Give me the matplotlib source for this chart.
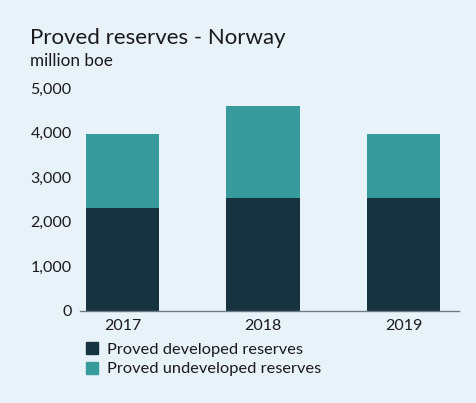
import matplotlib
matplotlib.use("Agg")
import matplotlib.pyplot as plt
from matplotlib.patches import Patch

# data (million boe)
years = ["2017", "2018", "2019"]
developed = [2310, 2530, 2530]
undeveloped = [1660, 2070, 1430]
yticks = [0, 1000, 2000, 3000, 4000, 5000]
ytick_labels = ["0", "1,000", "2,000", "3,000", "4,000", "5,000"]

bg = "#E8F2F9"
dark = "#173340"
teal = "#389B9B"
txt = "#1A1A1A"

plt.rcParams['font.family'] = ['Lato', 'DejaVu Sans']

fig = plt.figure(figsize=(4.77, 4.03), dpi=100, facecolor=bg)
ax = fig.add_axes([80/477, 1 - 311/403, 379/477, 223/403])
ax.set_facecolor(bg)

x = list(range(len(years)))
ax.bar(x, developed, width=0.52, color=dark, zorder=2)
ax.bar(x, undeveloped, bottom=developed, width=0.52, color=teal, zorder=2)

ax.set_xlim(-0.302, 2.395)
ax.set_ylim(0, 5000)
ax.set_yticks(yticks)
ax.set_yticklabels(ytick_labels)
ax.set_xticks(x)
ax.set_xticklabels(years)
ax.tick_params(axis='both', length=0, labelsize=11.5, colors=txt)
ax.tick_params(axis='y', pad=6)
ax.tick_params(axis='x', pad=6)

for s in ['top', 'right', 'left']:
    ax.spines[s].set_visible(False)
ax.spines['bottom'].set_color('#6B7B85')
ax.spines['bottom'].set_linewidth(1)

fig.text(30/477, 1 - 38/403, "Proved reserves - Norway", fontsize=16, color=txt, va='center')
fig.text(30/477, 1 - 61/403, "million boe", fontsize=12.3, color=txt, va='center')

handles = [Patch(color=dark), Patch(color=teal)]
fig.legend(handles, ["Proved developed reserves", "Proved undeveloped reserves"],
           loc='upper left', bbox_to_anchor=(86/477, 1 - 342/403), frameon=False,
           borderpad=0, borderaxespad=0,
           fontsize=11.8, handlelength=0.75, handleheight=0.75, handletextpad=0.55,
           labelspacing=0.3, labelcolor=txt)

fig.savefig("out.png", dpi=100, facecolor=bg)
